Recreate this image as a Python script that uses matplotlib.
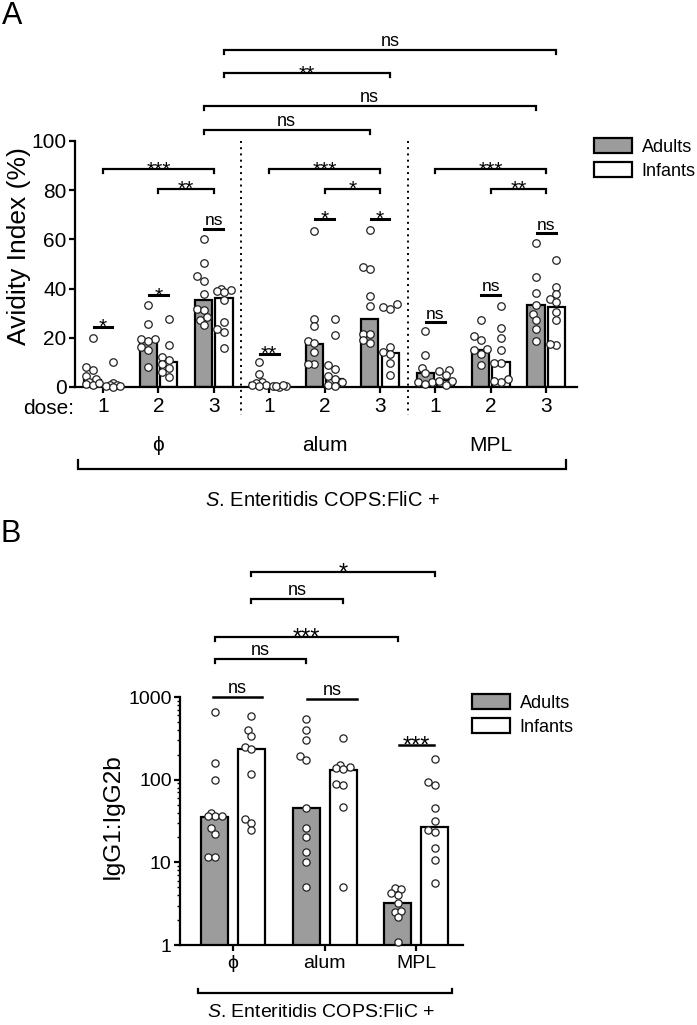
import numpy as np
import matplotlib
matplotlib.use('Agg')
import matplotlib.pyplot as plt
from matplotlib.patches import Patch

# ── Style ────────────────────────────────────────────────────────────────────
plt.rcParams.update({
    'font.family':       ['Liberation Sans', 'DejaVu Sans'],
    'mathtext.fontset':  'custom',
    'mathtext.it':       'Liberation Sans:italic',
    'mathtext.rm':       'Liberation Sans',
    'axes.linewidth':    1.6,
    'xtick.major.width': 1.6,
    'ytick.major.width': 1.6,
    'xtick.major.size':  4,
    'ytick.major.size':  4,
    'ytick.minor.width': 1.0,
    'ytick.minor.size':  2.2,
})

GRAY = '#9c9c9c'
W, H = 697, 1025

# ── Panel A data: avidity index (%) ──────────────────────────────────────────
DOSES = ['1', '2', '3']
ADJUVANTS = ['\u03d5', 'alum', 'MPL']
A_ADULT_BARS  = [3.0, 19.2, 35.2, 1.6, 17.6, 27.8, 5.7, 15.2, 33.2]
A_INFANT_BARS = [1.0, 10.2, 36.3, 0.5, 3.4, 14.0, 3.0, 10.2, 32.5]
A_ADULT_PTS = [
    [20.0, 8.1, 7.0, 4.3, 3.4, 2.2, 1.2, 1.0, 1.5],
    [33.5, 25.7, 19.5, 19.5, 18.7, 16.3, 14.9, 8.1],
    [60.3, 50.4, 45.1, 43.1, 37.9, 31.6, 31.2, 28.5, 27.4, 25.3],
    [10.2, 5.4, 2.0, 1.5, 1.0, 0.8, 0.5],
    [63.4, 27.5, 24.7, 18.7, 17.9, 14.2, 9.2, 9.3],
    [64.0, 48.8, 48.1, 37.0, 32.9, 21.7, 21.4, 19.0, 18.0],
    [22.6, 13.1, 7.9, 5.7, 2.0, 2.0, 1.4],
    [27.1, 20.6, 19.2, 15.3, 14.9, 13.6, 8.8],
    [58.7, 44.7, 38.2, 33.5, 29.8, 27.4, 23.7, 18.6],
]
A_INFANT_PTS = [
    [10.0, 1.5, 1.0, 1.0, 0.5, 0.0, 0.5],
    [27.6, 17.2, 12.2, 10.8, 9.5, 7.9, 6.1, 4.1],
    [39.6, 39.8, 39.0, 38.5, 35.5, 26.4, 23.4, 22.4, 15.9],
    [0.5, 0.3, 0.0, 0.5, 1.0],
    [27.5, 21.0, 8.8, 7.2, 4.3, 3.4, 2.0, 1.0, 0.5],
    [33.6, 32.5, 31.6, 16.3, 14.2, 13.3, 9.9, 5.0],
    [6.8, 6.5, 4.7, 2.4, 2.4, 0.7],
    [32.8, 24.0, 20.1, 14.9, 9.9, 9.9, 3.4, 2.0, 2.4],
    [51.5, 40.7, 37.9, 35.9, 34.6, 30.5, 27.1, 16.9, 17.6],
]
# adult vs infant at each dose
A_PAIR_SIG = ['*', '*', 'ns', '**', '*', '*', 'ns', 'ns', 'ns']
A_PAIR_Y   = [24.4, 37.3, 64.4, 13.5, 68.4, 68.4, 26.4, 37.5, 62.6]
# dose comparisons within adjuvant: (dose_from, dose_to, y), labels per adjuvant
A_DOSE_PAIRS = [(0, 2, 88.5), (1, 2, 80.6)]
A_DOSE_SIG   = [['***', '**'], ['***', '*'], ['***', '**']]
# dose 3 across adjuvants (bar index from, bar index to, group, label, axes y)
A_TOP = [(2, 8, 'infant', 'ns', 1.37),
         (2, 5, 'infant', '**', 1.276),
         (2, 8, 'adult',  'ns', 1.142),
         (2, 5, 'adult',  'ns', 1.045)]

# ── Panel B data: IgG1:IgG2b ratio ───────────────────────────────────────────
B_ADULT_BARS  = [35.5, 46.0, 3.25]
B_INFANT_BARS = [233.0, 130.0, 26.9]
B_ADULT_PTS = [
    [658, 161, 100, 39, 36, 36, 36, 25.9, 22.3, 11.7, 11.7],
    [547, 395, 299, 192, 171, 46, 25.9, 20.3, 13.4, 10, 5.07],
    [4.83, 4.7, 4.0, 4.2, 3.18, 2.53, 2.6, 2.2, 1.1],
]
B_INFANT_PTS = [
    [588, 395, 337, 248, 233, 116, 33, 30.3, 24.5],
    [319, 152, 142, 140, 135, 88, 85.6, 46.9, 5.07],
    [180, 94, 85.6, 45.6, 31.4, 24.5, 23.4, 15, 10.6, 5.7],
]
B_PAIR_SIG = ['ns', 'ns', '***']
B_PAIR_Y   = [1.0, 0.99, 0.806]         # axes fraction
B_TOP = [(0, 2, 'infant', '*',   1.504),
         (0, 1, 'infant', 'ns',  1.395),
         (0, 2, 'adult',  '***', 1.242),
         (0, 1, 'adult',  'ns',  1.153)]


def fx(px):
    return px / W


def fy(py):
    return 1 - py / H


def swarm_x(ax, center, vals, d=7.5, maxoff=10.0):
    """compact beeswarm kept within +-maxoff pixels of the centre"""
    vals = np.asarray(vals, float)
    t = ax.transData
    ypx = t.transform(np.column_stack([np.full(len(vals), center), vals]))[:, 1]
    unit = t.transform((center + 1, vals[0]))[0] - t.transform((center, vals[0]))[0]
    steps = [0.0]
    k = 1
    while k * d * 0.45 <= maxoff:
        steps += [-k * d * 0.45, k * d * 0.45]
        k += 1
    placed = []
    off = np.zeros(len(vals))
    for i in np.argsort(ypx):
        best, best_d = 0.0, -1
        for c in steps:
            md = min([np.hypot(c - px, ypx[i] - py) for px, py in placed] + [1e9])
            if md >= 0.8 * d:
                best = c
                break
            if md > best_d:
                best, best_d = c, md
        placed.append((best, ypx[i]))
        off[i] = best / unit
    return center + off


def sig_label(ax, x, y, label, tr, fs_ns, fs_star):
    if label == 'ns':
        ax.annotate('ns', (x, y), xycoords=tr, xytext=(0, 0.3), textcoords='offset points',
                    ha='center', va='bottom', fontsize=fs_ns, annotation_clip=False)
    else:
        ax.annotate(label, (x, y), xycoords=tr, xytext=(0, -0.3 * fs_star),
                    textcoords='offset points', ha='center', va='baseline',
                    fontsize=fs_star, annotation_clip=False)


def bracket(ax, x1, x2, y, drop, tr, lw=1.6):
    ax.plot([x1, x1, x2, x2], [y - drop, y, y, y - drop], color='black', lw=lw,
            transform=tr, clip_on=False, solid_joinstyle='miter')


def draw_points(ax, xs, pts, ms, maxoff):
    for x, vals in zip(xs, pts):
        px = swarm_x(ax, x, vals, maxoff=maxoff)
        ax.plot(px, vals, 'o', ms=ms, mfc='white', mec='#222222', mew=0.9,
                zorder=4, clip_on=False)


fig = plt.figure(figsize=(W / 100, H / 100), dpi=100)
fig.patch.set_facecolor('white')

# ── Panel A ──────────────────────────────────────────────────────────────────
axA = fig.add_axes([fx(75), fy(387), fx(577) - fx(75), fy(141) - fy(387)])
axA.set_xlim(-0.505, 8.556)
axA.set_ylim(0, 100)
for s in ['top', 'right']:
    axA.spines[s].set_visible(False)

xA = np.arange(len(A_ADULT_BARS))
offA, wA = 0.185, 0.31
axA.bar(xA - offA, A_ADULT_BARS, wA, color=GRAY, edgecolor='black', lw=1.6, zorder=2)
axA.bar(xA + offA, A_INFANT_BARS, wA, color='white', edgecolor='black', lw=1.6, zorder=2)
draw_points(axA, xA - offA, A_ADULT_PTS, 5.4, 9.5)
draw_points(axA, xA + offA, A_INFANT_PTS, 5.4, 9.5)

axA.set_xticks(xA)
axA.set_xticklabels(DOSES * 3)
axA.set_yticks(np.arange(0, 101, 20))
axA.tick_params(labelsize=15, direction='out')
axA.tick_params(axis='y', pad=2)

trA = axA.get_xaxis_transform()
for xv in [2.5, 5.5]:
    axA.plot([xv, xv], [1.0, -0.115], color='black', lw=1.4, ls=(0, (1, 2.2)),
             transform=trA, clip_on=False)

for i, (lab, y) in enumerate(zip(A_PAIR_SIG, A_PAIR_Y)):
    axA.plot([i - 0.17, i + 0.17], [y, y], color='black', lw=2.2, clip_on=False)
    sig_label(axA, i, y, lab, axA.transData, 12.5, 15)

for g in range(3):
    for (d1, d2, y), lab in zip(A_DOSE_PAIRS, A_DOSE_SIG[g]):
        x1, x2 = 3 * g + d1, 3 * g + d2
        bracket(axA, x1, x2, y, 1.6, axA.transData)
        sig_label(axA, (x1 + x2) / 2, y, lab, axA.transData, 12.5, 15)

for i1, i2, grp, lab, y in A_TOP:
    o = offA if grp == 'infant' else -offA
    bracket(axA, i1 + o, i2 + o, y, 0.016, trA)
    sig_label(axA, (i1 + i2) / 2 + o, y, lab, trA, 13, 15)

for g, name in enumerate(ADJUVANTS):
    axA.text(3 * g + 1, -0.236, name, transform=trA, ha='center', va='center',
             fontsize=15)
bracket(axA, -0.45, 8.36, -0.333, -0.036, trA)
axA.text(3.96, -0.46, r'$\mathit{S}$. Enteritidis COPS:FliC +', transform=trA,
         ha='center', va='center', fontsize=14.5)
fig.text(fx(49), fy(409), 'dose:', ha='center', va='center', fontsize=15)
fig.text(fx(19), fy(246), 'Avidity Index (%)', rotation=90, ha='center',
         va='center', fontsize=19)
fig.text(fx(12), fy(16), 'A', ha='center', va='center', fontsize=22)

handles = [Patch(facecolor=GRAY, edgecolor='black', lw=1.6, label='Adults'),
           Patch(facecolor='white', edgecolor='black', lw=1.6, label='Infants')]
axA.legend(handles=handles, loc='upper left', bbox_to_anchor=(fx(594), fy(138)),
           bbox_transform=fig.transFigure, frameon=False, fontsize=13,
           handlelength=2.1, handleheight=0.9, handletextpad=0.55,
           labelspacing=0.35, borderpad=0, borderaxespad=0)

# ── Panel B ──────────────────────────────────────────────────────────────────
axB = fig.add_axes([fx(180), fy(945), fx(463) - fx(180), fy(697) - fy(945)])
axB.set_yscale('log')
axB.set_ylim(1, 1000)
axB.set_xlim(-0.58, 2.51)
for s in ['top', 'right']:
    axB.spines[s].set_visible(False)

xB = np.arange(len(B_ADULT_BARS))
offB, wB = 0.2, 0.295
axB.bar(xB - offB, B_ADULT_BARS, wB, color=GRAY, edgecolor='black', lw=1.6, zorder=2)
axB.bar(xB + offB, B_INFANT_BARS, wB, color='white', edgecolor='black', lw=1.6, zorder=2)
draw_points(axB, xB - offB, B_ADULT_PTS, 5.2, 12)
draw_points(axB, xB + offB, B_INFANT_PTS, 5.2, 12)

axB.set_xticks(xB)
axB.set_xticklabels(ADJUVANTS)
axB.set_yticks([1, 10, 100, 1000])
axB.set_yticklabels(['1', '10', '100', '1000'])
axB.tick_params(labelsize=14, direction='out')
axB.tick_params(axis='y', which='both', pad=2)
axB.tick_params(axis='x', which='minor', bottom=False)

trB = axB.get_xaxis_transform()
pair_half = [0.27, 0.27, 0.19]
pair_mid = [0.05, 0.08, 0.0]
for i, (lab, y) in enumerate(zip(B_PAIR_SIG, B_PAIR_Y)):
    c = i + pair_mid[i]
    axB.plot([c - pair_half[i], c + pair_half[i]], [y, y], color='black', lw=1.8,
             transform=trB, clip_on=False)
    sig_label(axB, c, y, lab, trB, 13, 17)

for i1, i2, grp, lab, y in B_TOP:
    o = offB if grp == 'infant' else -offB
    bracket(axB, i1 + o, i2 + o, y, 0.016, trB)
    sig_label(axB, (i1 + i2) / 2 + o, y, lab, trB, 13, 17)

bracket(axB, -0.38, 2.39, -0.194, -0.017, trB)
axB.text(0.955, -0.272, r'$\mathit{S}$. Enteritidis COPS:FliC +', transform=trB,
         ha='center', va='center', fontsize=14)
fig.text(fx(113), fy(816), 'IgG1:IgG2b', rotation=90, ha='center', va='center',
         fontsize=17.5)
fig.text(fx(11), fy(534), 'B', ha='center', va='center', fontsize=22)

axB.legend(handles=handles, loc='upper left', bbox_to_anchor=(fx(472), fy(694)),
           bbox_transform=fig.transFigure, frameon=False, fontsize=13,
           handlelength=2.1, handleheight=0.9, handletextpad=0.55,
           labelspacing=0.35, borderpad=0, borderaxespad=0)

fig.savefig('out.png', dpi=100, facecolor='white')
